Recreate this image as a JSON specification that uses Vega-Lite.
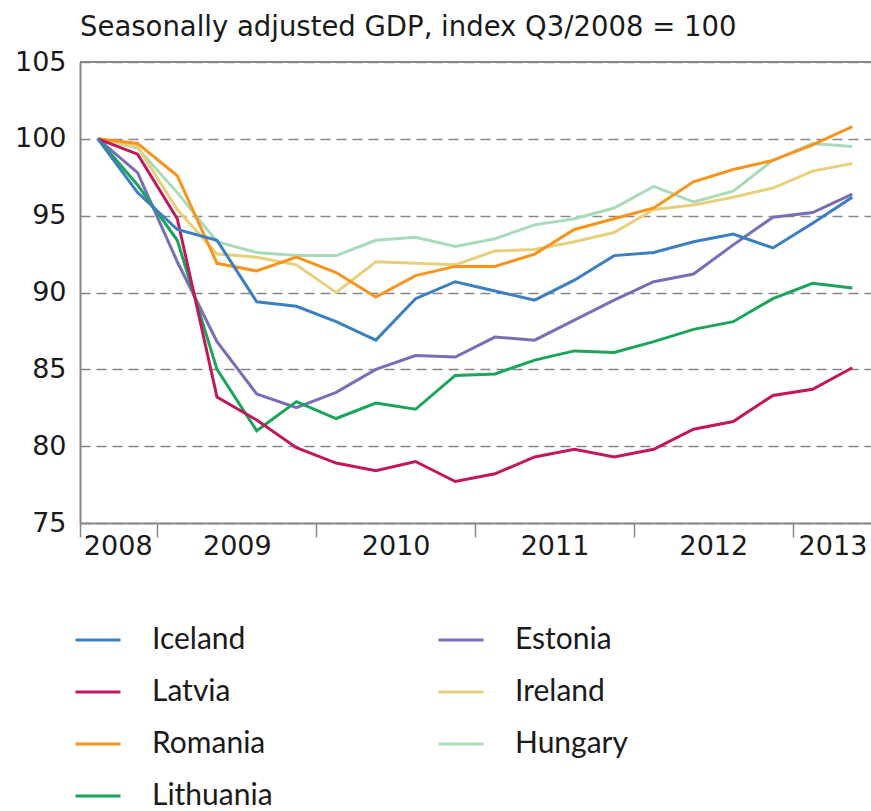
{
  "$schema": "https://vega.github.io/schema/vega-lite/v6.json",
  "width": 791,
  "height": 461,
  "autosize": {"type": "none"},
  "padding": {"left": 80, "top": 62, "right": 0, "bottom": 288},
  "background": "white",
  "title": {
    "text": "Seasonally adjusted GDP, index Q3/2008 = 100",
    "anchor": "start",
    "frame": "group",
    "font": "DejaVu Sans",
    "fontSize": 27.5,
    "fontWeight": "normal",
    "color": "#1a1a1a",
    "offset": 7
  },
  "config": {
    "view": {"stroke": null},
    "axis": {"labelFont": "DejaVu Sans", "labelFontSize": 27, "labelColor": "#1a1a1a"}
  },
  "data": {
    "values": [
      {"t": 0, "Iceland": 100, "Latvia": 100, "Romania": 100, "Lithuania": 100, "Estonia": 100, "Ireland": 100, "Hungary": 100},
      {"t": 1, "Iceland": 96.5, "Latvia": 99.0, "Romania": 99.7, "Lithuania": 97.0, "Estonia": 97.8, "Ireland": 99.5, "Hungary": 99.4},
      {"t": 2, "Iceland": 94.1, "Latvia": 94.8, "Romania": 97.6, "Lithuania": 93.4, "Estonia": 92.0, "Ireland": 95.4, "Hungary": 96.5},
      {"t": 3, "Iceland": 93.4, "Latvia": 83.2, "Romania": 91.9, "Lithuania": 85.0, "Estonia": 86.8, "Ireland": 92.5, "Hungary": 93.3},
      {"t": 4, "Iceland": 89.4, "Latvia": 81.7, "Romania": 91.4, "Lithuania": 81.0, "Estonia": 83.4, "Ireland": 92.3, "Hungary": 92.6},
      {"t": 5, "Iceland": 89.1, "Latvia": 79.9, "Romania": 92.3, "Lithuania": 82.9, "Estonia": 82.5, "Ireland": 91.8, "Hungary": 92.4},
      {"t": 6, "Iceland": 88.1, "Latvia": 78.9, "Romania": 91.3, "Lithuania": 81.8, "Estonia": 83.5, "Ireland": 90.0, "Hungary": 92.4},
      {"t": 7, "Iceland": 86.9, "Latvia": 78.4, "Romania": 89.7, "Lithuania": 82.8, "Estonia": 85.0, "Ireland": 92.0, "Hungary": 93.4},
      {"t": 8, "Iceland": 89.6, "Latvia": 79.0, "Romania": 91.1, "Lithuania": 82.4, "Estonia": 85.9, "Ireland": 91.9, "Hungary": 93.6},
      {"t": 9, "Iceland": 90.7, "Latvia": 77.7, "Romania": 91.7, "Lithuania": 84.6, "Estonia": 85.8, "Ireland": 91.8, "Hungary": 93.0},
      {"t": 10, "Iceland": 90.1, "Latvia": 78.2, "Romania": 91.7, "Lithuania": 84.7, "Estonia": 87.1, "Ireland": 92.7, "Hungary": 93.5},
      {"t": 11, "Iceland": 89.5, "Latvia": 79.3, "Romania": 92.5, "Lithuania": 85.6, "Estonia": 86.9, "Ireland": 92.8, "Hungary": 94.4},
      {"t": 12, "Iceland": 90.8, "Latvia": 79.8, "Romania": 94.1, "Lithuania": 86.2, "Estonia": 88.2, "Ireland": 93.3, "Hungary": 94.8},
      {"t": 13, "Iceland": 92.4, "Latvia": 79.3, "Romania": 94.8, "Lithuania": 86.1, "Estonia": 89.5, "Ireland": 93.9, "Hungary": 95.5},
      {"t": 14, "Iceland": 92.6, "Latvia": 79.8, "Romania": 95.5, "Lithuania": 86.8, "Estonia": 90.7, "Ireland": 95.4, "Hungary": 96.9},
      {"t": 15, "Iceland": 93.3, "Latvia": 81.1, "Romania": 97.2, "Lithuania": 87.6, "Estonia": 91.2, "Ireland": 95.7, "Hungary": 95.9},
      {"t": 16, "Iceland": 93.8, "Latvia": 81.6, "Romania": 98.0, "Lithuania": 88.1, "Estonia": 93.1, "Ireland": 96.2, "Hungary": 96.6},
      {"t": 17, "Iceland": 92.9, "Latvia": 83.3, "Romania": 98.6, "Lithuania": 89.6, "Estonia": 94.9, "Ireland": 96.8, "Hungary": 98.6},
      {"t": 18, "Iceland": 94.5, "Latvia": 83.7, "Romania": 99.6, "Lithuania": 90.6, "Estonia": 95.2, "Ireland": 97.9, "Hungary": 99.7},
      {"t": 19, "Iceland": 96.2, "Latvia": 85.1, "Romania": 100.8, "Lithuania": 90.3, "Estonia": 96.4, "Ireland": 98.4, "Hungary": 99.5}
    ]
  },
  "layer": [
    {
      "transform": [
        {"fold": ["Hungary", "Ireland", "Estonia", "Lithuania", "Romania", "Latvia", "Iceland"], "as": ["country", "value"]}
      ],
      "mark": {"type": "line", "strokeWidth": 3},
      "encoding": {
        "x": {
          "field": "t",
          "type": "quantitative",
          "scale": {"domain": [-0.45, 19.47], "nice": false, "zero": false},
          "axis": {
            "title": null,
            "orient": "bottom",
            "values": [-0.45, 1.5, 5.5, 9.5, 13.5, 17.5],
            "labels": false,
            "ticks": true,
            "tickSize": 14,
            "tickColor": "#888888",
            "tickWidth": 1.5,
            "domain": true,
            "domainColor": "#888888",
            "domainWidth": 2,
            "grid": false
          }
        },
        "y": {
          "field": "value",
          "type": "quantitative",
          "scale": {"domain": [75, 105], "nice": false, "zero": false},
          "axis": {
            "title": null,
            "values": [75, 80, 85, 90, 95, 100, 105],
            "ticks": false,
            "labelPadding": 14,
            "domain": true,
            "domainColor": "#888888",
            "domainWidth": 2,
            "grid": true,
            "gridColor": "#888888",
            "gridWidth": 1.5,
            "gridDash": [10, 6]
          }
        },
        "color": {
          "field": "country",
          "type": "nominal",
          "scale": {
            "domain": ["Iceland", "Latvia", "Romania", "Lithuania", "Estonia", "Ireland", "Hungary"],
            "range": ["#3a7fc2", "#c2185b", "#f7941d", "#1aa55a", "#7b6db5", "#e9cf7c", "#a9dbb8"]
          },
          "legend": {
            "title": null,
            "orient": "none",
            "legendX": -6,
            "legendY": 554,
            "columns": 2,
            "symbolType": "stroke",
            "symbolSize": 2025,
            "symbolStrokeWidth": 3,
            "labelFont": "Lato",
            "labelFontSize": 30,
            "labelColor": "#1a1a1a",
            "labelOffset": 30,
            "rowPadding": 13,
            "columnPadding": 159,
            "labelLimit": 400
          }
        }
      }
    },
    {
      "data": {"values": [{"a": -0.45, "b": 19.47, "y": 105}]},
      "mark": {"type": "rule", "color": "#888888", "strokeWidth": 2},
      "encoding": {
        "x": {
          "field": "a",
          "type": "quantitative",
          "axis": {
            "title": null,
            "orient": "bottom",
            "values": [0.5, 3.5, 7.5, 11.5, 15.5, 18.5],
            "labelExpr": "{'0.5':'2008','3.5':'2009','7.5':'2010','11.5':'2011','15.5':'2012','18.5':'2013'}[datum.value]",
            "ticks": false,
            "domain": false,
            "grid": false,
            "labelFlush": false,
            "labelOverlap": false,
            "labelBound": false,
            "labelPadding": 10
          }
        },
        "x2": {"field": "b"},
        "y": {"field": "y", "type": "quantitative"}
      }
    }
  ],
  "resolve": {"axis": {"x": "independent"}}
}
